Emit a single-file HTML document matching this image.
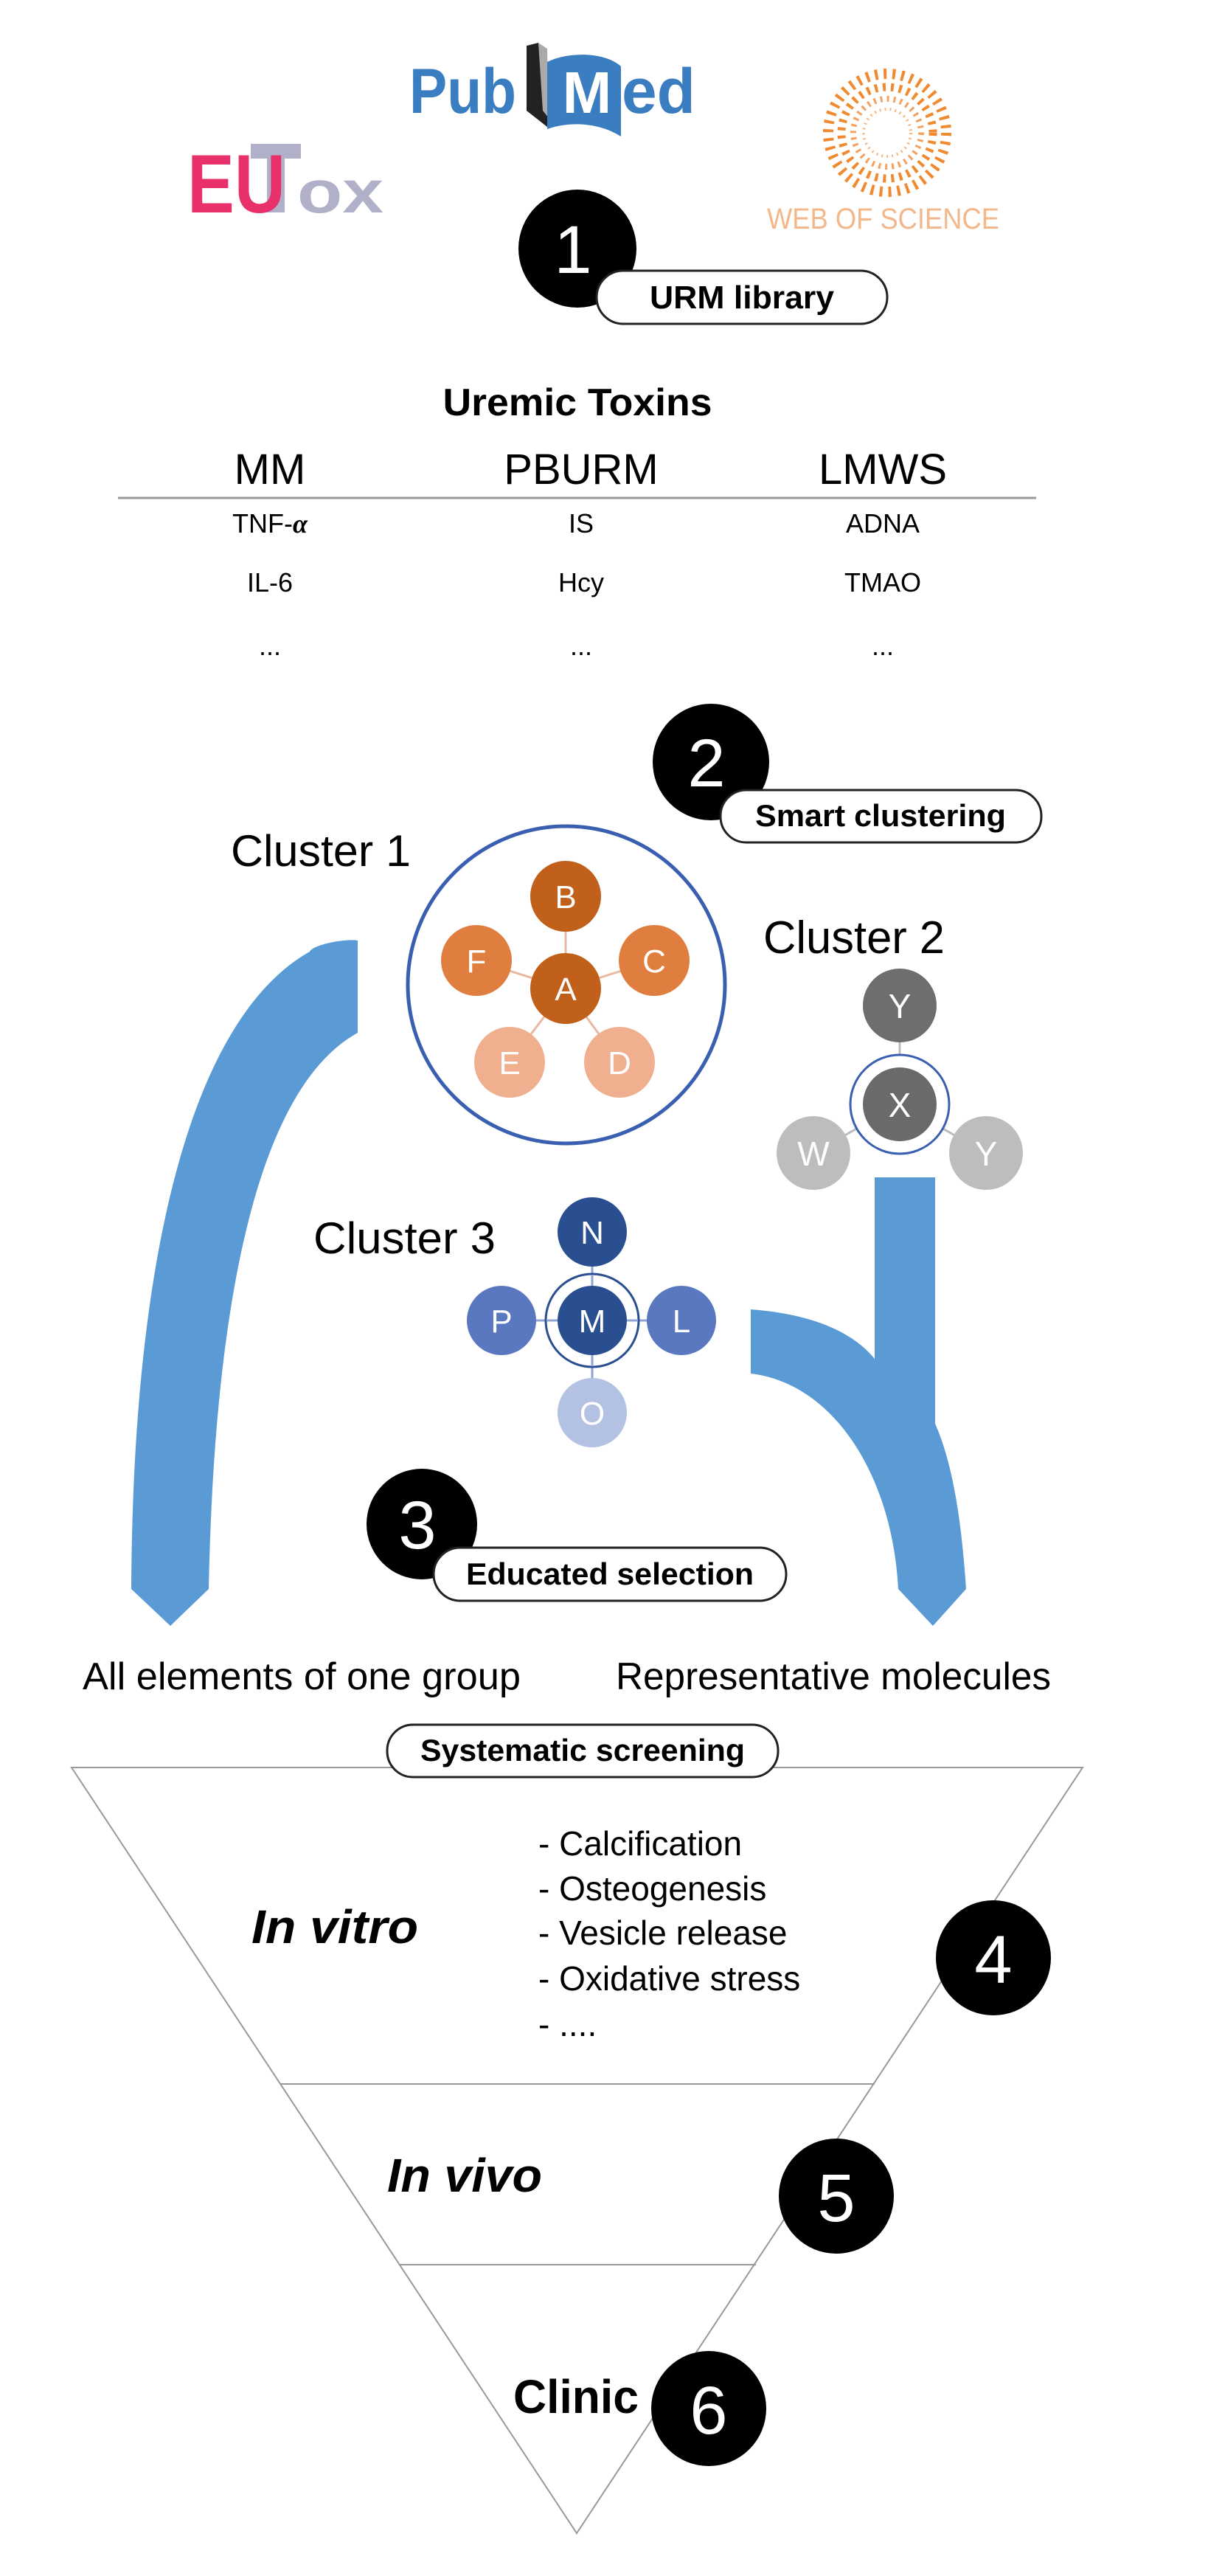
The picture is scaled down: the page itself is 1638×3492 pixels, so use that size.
<!DOCTYPE html>
<html><head><meta charset="utf-8"><style>html,body{margin:0;padding:0;background:#fff}svg{display:block}</style></head>
<body>
<svg width="1638" height="3492" viewBox="0 0 1638 3492" xmlns="http://www.w3.org/2000/svg" font-family="Liberation Sans, sans-serif">
<!-- logos -->
<text x="555" y="153" font-size="86" font-weight="bold" fill="#3a7dc0" textLength="145" lengthAdjust="spacingAndGlyphs">Pub</text>
<path d="M714,62 L730,58 L742,150 L742,172 L714,150 Z" fill="#222"/>
<path d="M730,58 L742,66 L744,160 L736,150 Z" fill="#aaa"/>
<path d="M742,84 C770,70 820,70 842,90 L842,185 C810,165 770,165 742,175 Z" fill="#3a7dc0"/>
<text x="796" y="153" font-size="80" font-weight="bold" fill="#fff" text-anchor="middle">M</text>
<text x="843" y="153" font-size="86" font-weight="bold" fill="#3a7dc0" textLength="100" lengthAdjust="spacingAndGlyphs">ed</text>
<rect x="340" y="195" width="68" height="20" fill="#b0b0c8"/>
<rect x="362" y="195" width="24" height="93" fill="#b0b0c8"/>
<text x="254" y="288" font-size="112" font-weight="bold" fill="#e8306a" textLength="133" lengthAdjust="spacingAndGlyphs">EU</text>
<text x="403" y="288" font-size="82" font-weight="bold" fill="#b0b0c8" textLength="117" lengthAdjust="spacingAndGlyphs">ox</text>
<g fill="#f08a30">
<circle cx="1203" cy="180" r="80" fill="none" stroke="#f08a30" stroke-width="14" stroke-dasharray="4 8"/>
<circle cx="1203" cy="180" r="62" fill="none" stroke="#f08a30" stroke-width="11" stroke-dasharray="4 7"/>
<circle cx="1203" cy="180" r="46" fill="none" stroke="#f3a060" stroke-width="8" stroke-dasharray="3 6"/>
<circle cx="1203" cy="180" r="32" fill="none" stroke="#f6b880" stroke-width="4" stroke-dasharray="2 5"/>
</g>
<text x="1040" y="310" font-size="40" fill="#f2b88c" textLength="315" lengthAdjust="spacingAndGlyphs">WEB OF SCIENCE</text>

<!-- step 1 -->
<circle cx="783" cy="337" r="80" fill="#000"/>
<text x="777" y="370" font-size="92" fill="#fff" text-anchor="middle">1</text>
<rect x="809" y="367" width="394" height="72" rx="36" fill="#fff" stroke="#222" stroke-width="3"/>
<text x="1006" y="418" font-size="44" font-weight="bold" text-anchor="middle" textLength="250" lengthAdjust="spacingAndGlyphs">URM library</text>

<!-- table -->
<text x="783" y="563" font-size="52" font-weight="bold" text-anchor="middle" textLength="365" lengthAdjust="spacingAndGlyphs">Uremic Toxins</text>
<g font-size="58" text-anchor="middle">
<text x="366" y="656">MM</text><text x="788" y="656">PBURM</text><text x="1197" y="656">LMWS</text>
</g>
<line x1="160" y1="675" x2="1405" y2="675" stroke="#999" stroke-width="3"/>
<g font-size="36" text-anchor="middle">
<text x="366" y="722">TNF-<tspan font-style="italic" font-weight="bold" font-family="Liberation Serif, serif">α</tspan></text><text x="788" y="722">IS</text><text x="1197" y="722">ADNA</text>
<text x="366" y="802">IL-6</text><text x="788" y="802">Hcy</text><text x="1197" y="802">TMAO</text>
<text x="366" y="888">...</text><text x="788" y="888">...</text><text x="1197" y="888">...</text>
</g>

<!-- step 2 -->
<circle cx="964" cy="1033" r="79" fill="#000"/>
<text x="958" y="1066" font-size="92" fill="#fff" text-anchor="middle">2</text>
<rect x="977" y="1071" width="435" height="71" rx="35" fill="#fff" stroke="#222" stroke-width="3"/>
<text x="1194" y="1120" font-size="42" font-weight="bold" text-anchor="middle" textLength="340" lengthAdjust="spacingAndGlyphs">Smart clustering</text>

<!-- arrows -->
<path d="M420,1290 C425,1280 470,1272 485,1275 L485,1400 C340,1480 290,1800 283,2154 L231,2204 L178,2154 C180,1700 260,1380 420,1290 Z" fill="#5b9bd5"/>
<path d="M1186,1596 L1268,1596 L1268,1930 C1295,1990 1305,2080 1310,2154 L1265,2204 L1218,2154 C1210,2000 1130,1875 1018,1862 L1018,1775 C1110,1782 1160,1810 1186,1842 Z" fill="#5b9bd5"/>

<!-- cluster 1 -->
<text x="313" y="1174" font-size="60" textLength="244" lengthAdjust="spacingAndGlyphs">Cluster 1</text>
<circle cx="768" cy="1335" r="215" fill="#fff" stroke="#3a5fb0" stroke-width="5"/>
<g stroke="#e8b9a0" stroke-width="3">
<line x1="767" y1="1215" x2="767" y2="1340"/><line x1="646" y1="1302" x2="767" y2="1340"/><line x1="887" y1="1302" x2="767" y2="1340"/><line x1="691" y1="1440" x2="767" y2="1340"/><line x1="840" y1="1440" x2="767" y2="1340"/>
</g>
<g font-size="44" fill="#fff" text-anchor="middle">
<circle cx="767" cy="1215" r="48" fill="#c0601a"/><text x="767" y="1231">B</text>
<circle cx="646" cy="1302" r="48" fill="#e07e40"/><text x="646" y="1318">F</text>
<circle cx="887" cy="1302" r="48" fill="#e07e40"/><text x="887" y="1318">C</text>
<circle cx="691" cy="1440" r="48" fill="#f0b090"/><text x="691" y="1456">E</text>
<circle cx="840" cy="1440" r="48" fill="#f0b090"/><text x="840" y="1456">D</text>
<circle cx="767" cy="1340" r="48" fill="#c0601a"/><text x="767" y="1356">A</text>
</g>

<!-- cluster 2 -->
<text x="1035" y="1292" font-size="62" textLength="246" lengthAdjust="spacingAndGlyphs">Cluster 2</text>
<g stroke="#bbb" stroke-width="3"><line x1="1220" y1="1363" x2="1220" y2="1497"/><line x1="1103" y1="1563" x2="1220" y2="1497"/><line x1="1337" y1="1563" x2="1220" y2="1497"/></g>
<g font-size="46" fill="#fff" text-anchor="middle">
<circle cx="1220" cy="1363" r="50" fill="#6e6e6e"/><text x="1220" y="1380">Y</text>
<circle cx="1103" cy="1563" r="50" fill="#bdbdbd"/><text x="1103" y="1580">W</text>
<circle cx="1337" cy="1563" r="50" fill="#bdbdbd"/><text x="1337" y="1580">Y</text>
<circle cx="1220" cy="1497" r="67" fill="#fff" stroke="#3a5fb0" stroke-width="3"/>
<circle cx="1220" cy="1497" r="50" fill="#6a6a6a"/><text x="1220" y="1514">X</text>
</g>

<!-- cluster 3 -->
<text x="425" y="1699" font-size="60" textLength="247" lengthAdjust="spacingAndGlyphs">Cluster 3</text>
<g stroke="#8fa4d4" stroke-width="3"><line x1="803" y1="1670" x2="803" y2="1915"/><line x1="680" y1="1790" x2="924" y2="1790"/></g>
<g font-size="44" fill="#fff" text-anchor="middle">
<circle cx="803" cy="1670" r="47" fill="#2a4f90"/><text x="803" y="1686">N</text>
<circle cx="680" cy="1790" r="47" fill="#5a78c0"/><text x="680" y="1806">P</text>
<circle cx="924" cy="1790" r="47" fill="#5a78c0"/><text x="924" y="1806">L</text>
<circle cx="803" cy="1915" r="47" fill="#b3c1e2"/><text x="803" y="1931">O</text>
<circle cx="803" cy="1790" r="63" fill="#fff" stroke="#2a4f90" stroke-width="3"/>
<line x1="741" y1="1790" x2="865" y2="1790" stroke="#8fa4d4" stroke-width="3"/>
<line x1="803" y1="1728" x2="803" y2="1852" stroke="#8fa4d4" stroke-width="3"/>
<circle cx="803" cy="1790" r="47" fill="#2a4f90"/><text x="803" y="1806">M</text>
</g>

<!-- step 3 -->
<circle cx="572" cy="2066" r="75" fill="#000"/>
<text x="566" y="2099" font-size="92" fill="#fff" text-anchor="middle">3</text>
<rect x="588" y="2098" width="478" height="72" rx="36" fill="#fff" stroke="#222" stroke-width="3"/>
<text x="827" y="2148" font-size="42" font-weight="bold" text-anchor="middle" textLength="390" lengthAdjust="spacingAndGlyphs">Educated selection</text>

<text x="112" y="2290" font-size="52" textLength="594" lengthAdjust="spacingAndGlyphs">All elements of one group</text>
<text x="835" y="2290" font-size="52" textLength="590" lengthAdjust="spacingAndGlyphs">Representative molecules</text>

<!-- funnel -->
<path d="M97,2396 L1468,2396 L782,3434 Z" fill="#fff" stroke="#999" stroke-width="2"/>
<line x1="380" y1="2825" x2="1186" y2="2825" stroke="#999" stroke-width="2"/>
<line x1="541" y1="3070" x2="1025" y2="3070" stroke="#999" stroke-width="2"/>
<rect x="525" y="2338" width="530" height="71" rx="35" fill="#fff" stroke="#222" stroke-width="3"/>
<text x="790" y="2387" font-size="42" font-weight="bold" text-anchor="middle" textLength="440" lengthAdjust="spacingAndGlyphs">Systematic screening</text>

<text x="341" y="2634" font-size="64" font-weight="bold" font-style="italic" textLength="226" lengthAdjust="spacingAndGlyphs">In vitro</text>
<g font-size="46">
<text x="730" y="2515">-  Calcification</text>
<text x="730" y="2576">-  Osteogenesis</text>
<text x="730" y="2636">-  Vesicle release</text>
<text x="730" y="2698">-  Oxidative stress</text>
<text x="730" y="2760">-  ....</text>
</g>
<text x="525" y="2971" font-size="64" font-weight="bold" font-style="italic" textLength="210" lengthAdjust="spacingAndGlyphs">In vivo</text>
<text x="696" y="3271" font-size="64" font-weight="bold" textLength="170" lengthAdjust="spacingAndGlyphs">Clinic</text>

<circle cx="1347" cy="2654" r="78" fill="#000"/>
<text x="1347" y="2688" font-size="92" fill="#fff" text-anchor="middle">4</text>
<circle cx="1134" cy="2977" r="78" fill="#000"/>
<text x="1134" y="3011" font-size="92" fill="#fff" text-anchor="middle">5</text>
<circle cx="961" cy="3265" r="78" fill="#000"/>
<text x="961" y="3299" font-size="92" fill="#fff" text-anchor="middle">6</text>
</svg>
</body></html>
